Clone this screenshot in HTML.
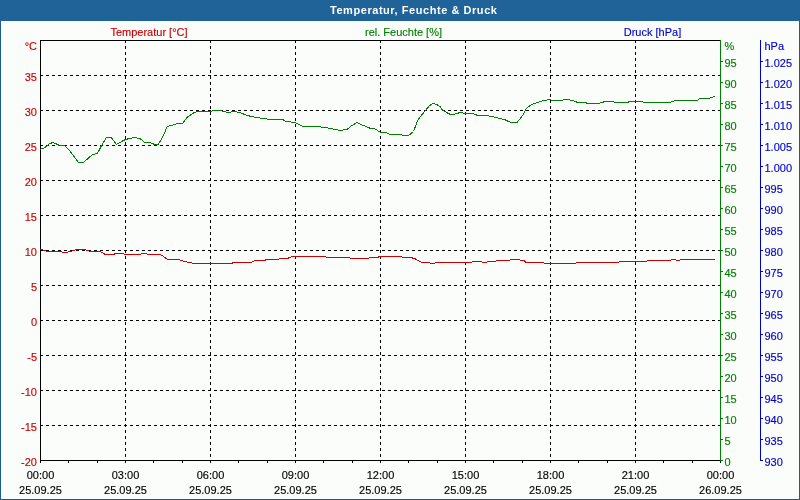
<!DOCTYPE html>
<html><head><meta charset="utf-8"><style>
html,body{margin:0;padding:0;width:800px;height:500px;overflow:hidden;background:#FBFDFB;}
#w{position:absolute;left:0;top:21px;width:798px;height:478px;border:1px solid #1A5C90;border-top:0;background:#FBFDFB;}
#t{position:absolute;left:0;top:0;width:800px;height:21px;background:#1F6398;}
#tt{will-change:transform;position:absolute;left:330px;top:3px;color:#fff;font:bold 11px "Liberation Sans", sans-serif;letter-spacing:0.55px;white-space:nowrap;line-height:14px;}
svg{position:absolute;left:0;top:0;will-change:transform;}
svg text{font-family:"Liberation Sans", sans-serif;font-size:11px;stroke-width:0.15px;}
</style></head><body>
<div id="w"></div>
<svg width="800" height="500" viewBox="0 0 800 500">
<g shape-rendering="crispEdges" fill="none">
<path d="M40 75.5H720" stroke="#000" stroke-dasharray="3 3"/>
<path d="M40 110.5H720" stroke="#000" stroke-dasharray="3 3"/>
<path d="M40 145.5H720" stroke="#000" stroke-dasharray="3 3"/>
<path d="M40 180.5H720" stroke="#000" stroke-dasharray="3 3"/>
<path d="M40 215.5H720" stroke="#000" stroke-dasharray="3 3"/>
<path d="M40 250.5H720" stroke="#000" stroke-dasharray="3 3"/>
<path d="M40 285.5H720" stroke="#000" stroke-dasharray="3 3"/>
<path d="M40 320.5H720" stroke="#000" stroke-dasharray="3 3"/>
<path d="M40 355.5H720" stroke="#000" stroke-dasharray="3 3"/>
<path d="M40 390.5H720" stroke="#000" stroke-dasharray="3 3"/>
<path d="M40 425.5H720" stroke="#000" stroke-dasharray="3 3"/>
<path d="M125.5 40V460" stroke="#000" stroke-dasharray="3 3"/>
<path d="M210.5 40V460" stroke="#000" stroke-dasharray="3 3"/>
<path d="M295.5 40V460" stroke="#000" stroke-dasharray="3 3"/>
<path d="M380.5 40V460" stroke="#000" stroke-dasharray="3 3"/>
<path d="M465.5 40V460" stroke="#000" stroke-dasharray="3 3"/>
<path d="M550.5 40V460" stroke="#000" stroke-dasharray="3 3"/>
<path d="M635.5 40V460" stroke="#000" stroke-dasharray="3 3"/>
<path d="M40 40.5H720M40 460.5H721M40.5 40V463" stroke="#000"/>
<path d="M40.5 460V463" stroke="#000"/>
<path d="M68.5 460V463" stroke="#000"/>
<path d="M97.5 460V463" stroke="#000"/>
<path d="M125.5 460V463" stroke="#000"/>
<path d="M153.5 460V463" stroke="#000"/>
<path d="M182.5 460V463" stroke="#000"/>
<path d="M210.5 460V463" stroke="#000"/>
<path d="M238.5 460V463" stroke="#000"/>
<path d="M267.5 460V463" stroke="#000"/>
<path d="M295.5 460V463" stroke="#000"/>
<path d="M323.5 460V463" stroke="#000"/>
<path d="M352.5 460V463" stroke="#000"/>
<path d="M380.5 460V463" stroke="#000"/>
<path d="M408.5 460V463" stroke="#000"/>
<path d="M437.5 460V463" stroke="#000"/>
<path d="M465.5 460V463" stroke="#000"/>
<path d="M493.5 460V463" stroke="#000"/>
<path d="M522.5 460V463" stroke="#000"/>
<path d="M550.5 460V463" stroke="#000"/>
<path d="M578.5 460V463" stroke="#000"/>
<path d="M607.5 460V463" stroke="#000"/>
<path d="M635.5 460V463" stroke="#000"/>
<path d="M663.5 460V463" stroke="#000"/>
<path d="M692.5 460V463" stroke="#000"/>
<path d="M720.5 460V463" stroke="#000"/>
<path d="M720.5 40V461" stroke="#008000"/>
<path d="M720 460.5H723" stroke="#008000"/>
<path d="M720 439.5H723" stroke="#008000"/>
<path d="M720 418.5H723" stroke="#008000"/>
<path d="M720 397.5H723" stroke="#008000"/>
<path d="M720 376.5H723" stroke="#008000"/>
<path d="M720 355.5H723" stroke="#008000"/>
<path d="M720 334.5H723" stroke="#008000"/>
<path d="M720 313.5H723" stroke="#008000"/>
<path d="M720 292.5H723" stroke="#008000"/>
<path d="M720 271.5H723" stroke="#008000"/>
<path d="M720 250.5H723" stroke="#008000"/>
<path d="M720 229.5H723" stroke="#008000"/>
<path d="M720 208.5H723" stroke="#008000"/>
<path d="M720 187.5H723" stroke="#008000"/>
<path d="M720 166.5H723" stroke="#008000"/>
<path d="M720 145.5H723" stroke="#008000"/>
<path d="M720 124.5H723" stroke="#008000"/>
<path d="M720 103.5H723" stroke="#008000"/>
<path d="M720 82.5H723" stroke="#008000"/>
<path d="M720 61.5H723" stroke="#008000"/>
<path d="M760.5 40V461" stroke="#0000CC"/>
<path d="M760 460.5H763" stroke="#0000CC"/>
<path d="M760 439.5H763" stroke="#0000CC"/>
<path d="M760 418.5H763" stroke="#0000CC"/>
<path d="M760 397.5H763" stroke="#0000CC"/>
<path d="M760 376.5H763" stroke="#0000CC"/>
<path d="M760 355.5H763" stroke="#0000CC"/>
<path d="M760 334.5H763" stroke="#0000CC"/>
<path d="M760 313.5H763" stroke="#0000CC"/>
<path d="M760 292.5H763" stroke="#0000CC"/>
<path d="M760 271.5H763" stroke="#0000CC"/>
<path d="M760 250.5H763" stroke="#0000CC"/>
<path d="M760 229.5H763" stroke="#0000CC"/>
<path d="M760 208.5H763" stroke="#0000CC"/>
<path d="M760 187.5H763" stroke="#0000CC"/>
<path d="M760 166.5H763" stroke="#0000CC"/>
<path d="M760 145.5H763" stroke="#0000CC"/>
<path d="M760 124.5H763" stroke="#0000CC"/>
<path d="M760 103.5H763" stroke="#0000CC"/>
<path d="M760 82.5H763" stroke="#0000CC"/>
<path d="M760 61.5H763" stroke="#0000CC"/>
</g>
<polyline points="40.0,149.5 44.9,147.5 49.8,143.5 53.3,142.5 59.6,145.5 64.5,145.5 68.7,149.5 78.5,162.5 83.4,162.5 92.5,154.5 97.4,153.5 101.6,145.5 106.5,137.5 111.4,137.5 116.3,144.5 125.4,139.5 129.6,138.5 133.8,137.5 140.0,138.5 144.9,142.5 149.8,142.5 154.7,144.5 158.2,144.5 162.4,137.5 167.3,126.5 171.5,125.5 177.1,123.5 182.7,123.5 186.9,117.5 192.5,113.5 196.7,111.5 201.6,111.5 210.0,111.5 214.2,110.5 219.8,110.5 224.0,111.5 228.2,112.5 233.1,111.5 240.0,112.5 247.0,115.5 256.8,117.5 270.1,119.5 282.7,119.5 286.2,121.5 295.3,122.5 303.0,126.5 316.3,126.5 325.4,127.5 340.0,130.5 347.0,129.5 350.5,126.5 356.8,122.5 361.0,124.5 370.8,128.5 374.3,128.5 380.6,132.5 386.2,132.5 389.7,134.5 401.6,134.5 403.0,135.5 408.6,135.5 413.5,131.5 417.7,120.5 420.5,116.5 425.4,110.5 429.6,105.5 433.1,103.5 436.6,104.5 440.0,106.5 442.8,110.5 450.5,114.5 453.3,114.5 460.3,112.5 465.2,113.5 472.2,113.5 477.8,115.5 486.2,115.5 496.0,117.5 504.4,119.5 510.7,122.5 517.0,122.5 522.6,115.5 526.1,108.5 531.7,104.5 535.2,103.5 540.0,101.5 544.2,100.5 549.1,99.5 553.3,100.5 561.7,100.5 564.5,99.5 567.3,99.5 572.2,100.5 577.8,102.5 585.5,102.5 587.6,103.5 598.8,103.5 605.1,101.5 613.5,101.5 614.9,102.5 627.5,102.5 629.6,101.5 640.0,101.5 642.6,101.5 644.0,102.5 669.9,102.5 675.5,100.5 697.2,100.5 700.0,98.5 708.4,98.5 711.2,97.5 714.7,96.5" fill="none" stroke="#008000" stroke-width="1" shape-rendering="crispEdges"/>
<polyline points="40.0,249.5 41.9,249.5 43.8,250.5 48.1,251.5 60.6,251.5 63.1,252.5 65.6,252.5 70.0,251.5 73.8,250.5 76.2,249.5 85.0,249.5 87.5,250.5 90.6,251.5 99.4,251.5 102.5,252.5 105.0,254.5 113.8,254.5 115.0,253.5 122.5,253.5 125.0,254.5 140.0,254.5 142.5,253.5 146.2,253.5 147.5,254.5 159.4,254.5 161.9,255.5 165.0,257.5 167.5,259.5 179.4,259.5 181.2,260.5 185.0,261.5 189.4,262.5 194.4,263.5 231.9,263.5 233.1,262.5 240.0,262.5 250.6,262.5 255.0,260.5 265.0,260.5 265.6,259.5 278.8,259.5 279.4,258.5 288.1,258.5 288.8,257.5 293.8,256.5 325.6,256.5 326.2,257.5 340.0,257.5 349.4,257.5 350.6,258.5 368.1,258.5 369.4,257.5 377.5,257.5 379.4,256.5 401.2,256.5 402.5,257.5 410.0,257.5 415.0,258.5 417.5,260.5 422.5,262.5 429.4,262.5 430.6,263.5 434.4,263.5 436.2,262.5 440.0,262.5 471.2,262.5 472.5,261.5 481.2,261.5 482.5,262.5 486.2,262.5 487.5,261.5 495.6,261.5 496.9,260.5 509.4,260.5 510.6,259.5 519.4,259.5 520.6,260.5 523.8,260.5 526.2,262.5 540.0,262.5 543.8,262.5 544.4,263.5 575.6,263.5 576.2,262.5 618.8,262.5 619.4,261.5 640.0,261.5 646.2,261.5 647.5,260.5 670.6,260.5 671.9,259.5 675.6,259.5 676.9,260.5 679.4,260.5 680.6,259.5 715.0,259.5" fill="none" stroke="#CC0000" stroke-width="1" shape-rendering="crispEdges"/>
<text x="37" y="81" fill="#CC0000" stroke="#CC0000" text-anchor="end" font-weight="normal">35</text>
<text x="37" y="116" fill="#CC0000" stroke="#CC0000" text-anchor="end" font-weight="normal">30</text>
<text x="37" y="151" fill="#CC0000" stroke="#CC0000" text-anchor="end" font-weight="normal">25</text>
<text x="37" y="186" fill="#CC0000" stroke="#CC0000" text-anchor="end" font-weight="normal">20</text>
<text x="37" y="221" fill="#CC0000" stroke="#CC0000" text-anchor="end" font-weight="normal">15</text>
<text x="37" y="256" fill="#CC0000" stroke="#CC0000" text-anchor="end" font-weight="normal">10</text>
<text x="37" y="291" fill="#CC0000" stroke="#CC0000" text-anchor="end" font-weight="normal">5</text>
<text x="37" y="326" fill="#CC0000" stroke="#CC0000" text-anchor="end" font-weight="normal">0</text>
<text x="37" y="361" fill="#CC0000" stroke="#CC0000" text-anchor="end" font-weight="normal">-5</text>
<text x="37" y="396" fill="#CC0000" stroke="#CC0000" text-anchor="end" font-weight="normal">-10</text>
<text x="37" y="431" fill="#CC0000" stroke="#CC0000" text-anchor="end" font-weight="normal">-15</text>
<text x="37" y="466" fill="#CC0000" stroke="#CC0000" text-anchor="end" font-weight="normal">-20</text>
<text x="37" y="50" fill="#CC0000" stroke="#CC0000" text-anchor="end" font-weight="normal">°C</text>
<text x="724.5" y="466" fill="#008000" stroke="#008000" text-anchor="start" font-weight="normal">0</text>
<text x="724.5" y="445" fill="#008000" stroke="#008000" text-anchor="start" font-weight="normal">5</text>
<text x="724.5" y="424" fill="#008000" stroke="#008000" text-anchor="start" font-weight="normal">10</text>
<text x="724.5" y="403" fill="#008000" stroke="#008000" text-anchor="start" font-weight="normal">15</text>
<text x="724.5" y="382" fill="#008000" stroke="#008000" text-anchor="start" font-weight="normal">20</text>
<text x="724.5" y="361" fill="#008000" stroke="#008000" text-anchor="start" font-weight="normal">25</text>
<text x="724.5" y="340" fill="#008000" stroke="#008000" text-anchor="start" font-weight="normal">30</text>
<text x="724.5" y="319" fill="#008000" stroke="#008000" text-anchor="start" font-weight="normal">35</text>
<text x="724.5" y="298" fill="#008000" stroke="#008000" text-anchor="start" font-weight="normal">40</text>
<text x="724.5" y="277" fill="#008000" stroke="#008000" text-anchor="start" font-weight="normal">45</text>
<text x="724.5" y="256" fill="#008000" stroke="#008000" text-anchor="start" font-weight="normal">50</text>
<text x="724.5" y="235" fill="#008000" stroke="#008000" text-anchor="start" font-weight="normal">55</text>
<text x="724.5" y="214" fill="#008000" stroke="#008000" text-anchor="start" font-weight="normal">60</text>
<text x="724.5" y="193" fill="#008000" stroke="#008000" text-anchor="start" font-weight="normal">65</text>
<text x="724.5" y="172" fill="#008000" stroke="#008000" text-anchor="start" font-weight="normal">70</text>
<text x="724.5" y="151" fill="#008000" stroke="#008000" text-anchor="start" font-weight="normal">75</text>
<text x="724.5" y="130" fill="#008000" stroke="#008000" text-anchor="start" font-weight="normal">80</text>
<text x="724.5" y="109" fill="#008000" stroke="#008000" text-anchor="start" font-weight="normal">85</text>
<text x="724.5" y="88" fill="#008000" stroke="#008000" text-anchor="start" font-weight="normal">90</text>
<text x="724.5" y="67" fill="#008000" stroke="#008000" text-anchor="start" font-weight="normal">95</text>
<text x="724.5" y="50" fill="#008000" stroke="#008000" text-anchor="start" font-weight="normal">%</text>
<text x="764.5" y="466" fill="#0000CC" stroke="#0000CC" text-anchor="start" font-weight="normal">930</text>
<text x="764.5" y="445" fill="#0000CC" stroke="#0000CC" text-anchor="start" font-weight="normal">935</text>
<text x="764.5" y="424" fill="#0000CC" stroke="#0000CC" text-anchor="start" font-weight="normal">940</text>
<text x="764.5" y="403" fill="#0000CC" stroke="#0000CC" text-anchor="start" font-weight="normal">945</text>
<text x="764.5" y="382" fill="#0000CC" stroke="#0000CC" text-anchor="start" font-weight="normal">950</text>
<text x="764.5" y="361" fill="#0000CC" stroke="#0000CC" text-anchor="start" font-weight="normal">955</text>
<text x="764.5" y="340" fill="#0000CC" stroke="#0000CC" text-anchor="start" font-weight="normal">960</text>
<text x="764.5" y="319" fill="#0000CC" stroke="#0000CC" text-anchor="start" font-weight="normal">965</text>
<text x="764.5" y="298" fill="#0000CC" stroke="#0000CC" text-anchor="start" font-weight="normal">970</text>
<text x="764.5" y="277" fill="#0000CC" stroke="#0000CC" text-anchor="start" font-weight="normal">975</text>
<text x="764.5" y="256" fill="#0000CC" stroke="#0000CC" text-anchor="start" font-weight="normal">980</text>
<text x="764.5" y="235" fill="#0000CC" stroke="#0000CC" text-anchor="start" font-weight="normal">985</text>
<text x="764.5" y="214" fill="#0000CC" stroke="#0000CC" text-anchor="start" font-weight="normal">990</text>
<text x="764.5" y="193" fill="#0000CC" stroke="#0000CC" text-anchor="start" font-weight="normal">995</text>
<text x="764.5" y="172" fill="#0000CC" stroke="#0000CC" text-anchor="start" font-weight="normal">1.000</text>
<text x="764.5" y="151" fill="#0000CC" stroke="#0000CC" text-anchor="start" font-weight="normal">1.005</text>
<text x="764.5" y="130" fill="#0000CC" stroke="#0000CC" text-anchor="start" font-weight="normal">1.010</text>
<text x="764.5" y="109" fill="#0000CC" stroke="#0000CC" text-anchor="start" font-weight="normal">1.015</text>
<text x="764.5" y="88" fill="#0000CC" stroke="#0000CC" text-anchor="start" font-weight="normal">1.020</text>
<text x="764.5" y="67" fill="#0000CC" stroke="#0000CC" text-anchor="start" font-weight="normal">1.025</text>
<text x="764.5" y="50" fill="#0000CC" stroke="#0000CC" text-anchor="start" font-weight="normal">hPa</text>
<text x="149" y="36" fill="#CC0000" stroke="#CC0000" text-anchor="middle" font-weight="normal">Temperatur [°C]</text>
<text x="403.5" y="36" fill="#008000" stroke="#008000" text-anchor="middle" font-weight="normal">rel. Feuchte [%]</text>
<text x="652.5" y="36" fill="#0000CC" stroke="#0000CC" text-anchor="middle" font-weight="normal">Druck [hPa]</text>
<text x="40.5" y="479" fill="#000" stroke="#000" text-anchor="middle" font-weight="normal">00:00</text>
<text x="40.5" y="494" fill="#000" stroke="#000" text-anchor="middle" font-weight="normal">25.09.25</text>
<text x="125.5" y="479" fill="#000" stroke="#000" text-anchor="middle" font-weight="normal">03:00</text>
<text x="125.5" y="494" fill="#000" stroke="#000" text-anchor="middle" font-weight="normal">25.09.25</text>
<text x="210.5" y="479" fill="#000" stroke="#000" text-anchor="middle" font-weight="normal">06:00</text>
<text x="210.5" y="494" fill="#000" stroke="#000" text-anchor="middle" font-weight="normal">25.09.25</text>
<text x="295.5" y="479" fill="#000" stroke="#000" text-anchor="middle" font-weight="normal">09:00</text>
<text x="295.5" y="494" fill="#000" stroke="#000" text-anchor="middle" font-weight="normal">25.09.25</text>
<text x="380.5" y="479" fill="#000" stroke="#000" text-anchor="middle" font-weight="normal">12:00</text>
<text x="380.5" y="494" fill="#000" stroke="#000" text-anchor="middle" font-weight="normal">25.09.25</text>
<text x="465.5" y="479" fill="#000" stroke="#000" text-anchor="middle" font-weight="normal">15:00</text>
<text x="465.5" y="494" fill="#000" stroke="#000" text-anchor="middle" font-weight="normal">25.09.25</text>
<text x="550.5" y="479" fill="#000" stroke="#000" text-anchor="middle" font-weight="normal">18:00</text>
<text x="550.5" y="494" fill="#000" stroke="#000" text-anchor="middle" font-weight="normal">25.09.25</text>
<text x="635.5" y="479" fill="#000" stroke="#000" text-anchor="middle" font-weight="normal">21:00</text>
<text x="635.5" y="494" fill="#000" stroke="#000" text-anchor="middle" font-weight="normal">25.09.25</text>
<text x="720.5" y="479" fill="#000" stroke="#000" text-anchor="middle" font-weight="normal">00:00</text>
<text x="720.5" y="494" fill="#000" stroke="#000" text-anchor="middle" font-weight="normal">26.09.25</text>
</svg>
<div id="t"><div id="tt">Temperatur, Feuchte &amp; Druck</div></div>
</body></html>
